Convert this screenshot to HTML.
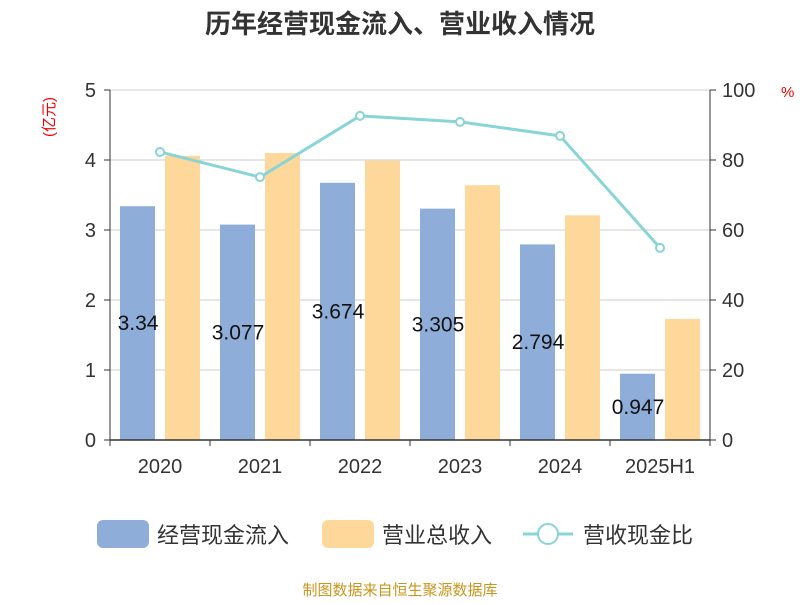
<!DOCTYPE html>
<html><head><meta charset="utf-8"><style>
body{margin:0;background:#fff;font-family:"Liberation Sans","Noto Sans CJK SC",sans-serif;}
</style></head><body>
<svg width="800" height="600" xmlns="http://www.w3.org/2000/svg" style="font-family:'Liberation Sans','Noto Sans CJK SC',sans-serif">
<text x="400" y="33" text-anchor="middle" font-size="26" font-weight="bold" fill="#333">历年经营现金流入、营业收入情况</text>
<text x="54" y="117" font-size="15" fill="#e00" transform="rotate(-90 54 117)" text-anchor="middle">(亿元)</text>
<text x="781" y="97" font-size="15" fill="#e00">%</text>
<g id="grid"></g><g id="bars"></g><g id="line"></g><g id="axes"></g>
<g>
<rect x="97" y="520" width="52" height="28" rx="6" fill="#8eadd9"/>
<text x="157" y="543" font-size="22" fill="#333">经营现金流入</text>
<rect x="322" y="520" width="52" height="28" rx="6" fill="#fdd89a"/>
<text x="382" y="543" font-size="22" fill="#333">营业总收入</text>
<line x1="523" y1="534" x2="573" y2="534" stroke="#88d4d6" stroke-width="3"/>
<circle cx="548" cy="534" r="10" fill="#fff" stroke="#88d4d6" stroke-width="2"/>
<text x="583" y="543" font-size="22" fill="#333">营收现金比</text>
</g>
<text x="400" y="595" text-anchor="middle" font-size="15" fill="#c8961e">制图数据来自恒生聚源数据库</text>
</svg>
<script>
const categories=["2020","2021","2022","2023","2024","2025H1"];
const cashInflow=[3.34,3.077,3.674,3.305,2.794,0.947];
const revenue=[4.06,4.1,3.99,3.64,3.21,1.73];
const ratio=[82.3,75.1,92.6,90.9,86.9,54.9];
const leftTicks=[0,1,2,3,4,5];
const rightTicks=[0,20,40,60,80,100];
const NS="http://www.w3.org/2000/svg";
const X0=110,X1=710,Y0=440,Y1=90;
const band=(X1-X0)/categories.length;
const yL=v=>Y0-(v/5)*(Y0-Y1);
const yR=v=>Y0-(v/100)*(Y0-Y1);
const xc=i=>X0+band*(i+0.5);
function mk(tag,attrs,parent,txt){const e=document.createElementNS(NS,tag);for(const k in attrs)e.setAttribute(k,attrs[k]);if(txt!==undefined)e.textContent=txt;document.getElementById(parent).appendChild(e);return e;}
leftTicks.forEach(t=>{
 if(t>0){const g=mk('line',{x1:X0,x2:X1,y1:yL(t),y2:yL(t),stroke:'#ccc','stroke-width':1},'grid');
 }
 const tl=mk('text',{x:X0-14,y:yL(t)+7,'text-anchor':'end','font-size':20,fill:'#333'},'axes',t);
 
 const tk=mk('line',{x1:X0-6,x2:X0,y1:yL(t),y2:yL(t),stroke:'#333'},'axes');
 
});
rightTicks.forEach(t=>{
 const tl=mk('text',{x:X1+12,y:yR(t)+7,'font-size':20,fill:'#333'},'axes',t);
 
 const tk=mk('line',{x1:X1,x2:X1+6,y1:yR(t),y2:yR(t),stroke:'#333'},'axes');
 
});
categories.forEach((c,i)=>{
 const b=mk('rect',{x:xc(i)-40,y:yL(cashInflow[i]),width:35,height:Y0-yL(cashInflow[i]),fill:'#8eadd9'},'bars');
 
 const r=mk('rect',{x:xc(i)+5,y:yL(revenue[i]),width:35,height:Y0-yL(revenue[i]),fill:'#fdd89a'},'bars');
 
 const v=mk('text',{x:xc(i)-22,y:(yL(cashInflow[i])+Y0)/2+7,'text-anchor':'middle','font-size':21,fill:'#111'},'bars',cashInflow[i]);
 
 const cl=mk('text',{x:xc(i),y:473,'text-anchor':'middle','font-size':20,fill:'#333'},'axes',c);
 
 const tk=mk('line',{x1:X0+band*i,x2:X0+band*i,y1:Y0,y2:Y0+6,stroke:'#333'},'axes');
 
});
const tkl=mk('line',{x1:X1,x2:X1,y1:Y0,y2:Y0+6,stroke:'#333'},'axes');

const ax=mk('line',{x1:X0,x2:X1,y1:Y0,y2:Y0,stroke:'#333','stroke-width':1.5},'axes');

const la=mk('line',{x1:X0,x2:X0,y1:Y1,y2:Y0,stroke:'#333'},'axes');

const ra=mk('line',{x1:X1,x2:X1,y1:Y1,y2:Y0,stroke:'#333'},'axes');

const pl=mk('polyline',{points:ratio.map((v,i)=>xc(i)+','+yR(v)).join(' '),fill:'none',stroke:'#88d4d6','stroke-width':3},'line');

ratio.forEach((v,i)=>{
 const p=mk('circle',{cx:xc(i),cy:yR(v),r:4,fill:'#fff',stroke:'#88d4d6','stroke-width':2},'line');
 
});
</script>
</body></html>
